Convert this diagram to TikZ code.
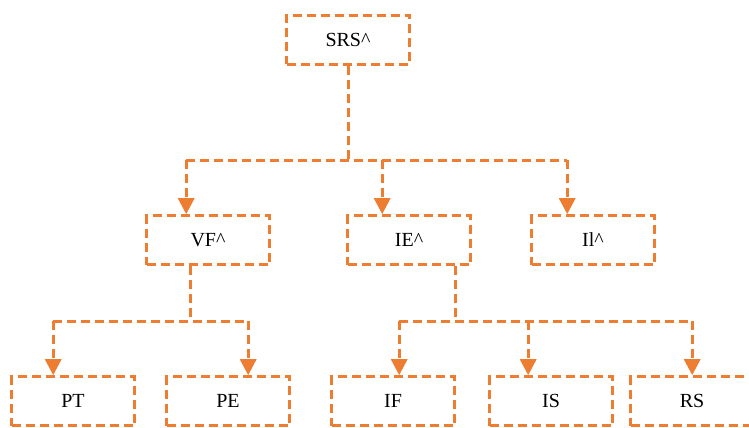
\documentclass[tikz,border=0pt]{standalone}
\usepackage{fontspec}
\setmainfont{Liberation Serif}
\usetikzlibrary{arrows.meta}
\definecolor{boxorange}{RGB}{237,125,49}

\begin{document}
\begin{tikzpicture}[x=1pt,y=-1pt,
	box/.style={draw=boxorange, line width=2.6pt, dash pattern=on 9pt off 5pt,
		minimum width=123pt, minimum height=49pt, inner sep=0pt, font=\fontsize{20}{24}\selectfont},
	link/.style={draw=boxorange, line width=3pt, dash pattern=on 9pt off 5pt},
	arrow/.style={link, -{Triangle[length=16pt,width=16pt]}}]
	\useasboundingbox (0,0) rectangle (749,428);

	\node[box] (srs) at (348,40)  {SRS\textasciicircum};
	\node[box] (vf)  at (208,240) {VF\textasciicircum};
	\node[box] (ie)  at (409,240) {IE\textasciicircum};
	\node[box] (il)  at (593,240) {Il\textasciicircum};
	\node[box] (pt)  at (73,401)  {PT};
	\node[box] (pe)  at (228,401) {PE};
	\node[box] (if)  at (393,401) {IF};
	\node[box] (is)  at (551,401) {IS};
	\node[box] (rs)  at (692,401) {RS};

	% entry points on the box tops
	\coordinate (vf in) at ([xshift=41pt]vf.north west);
	\coordinate (ie in) at ([xshift=36pt]ie.north west);
	\coordinate (il in) at ([xshift=37pt]il.north west);
	\coordinate (pt in) at ([xshift=43pt]pt.north west);
	\coordinate (pe in) at ([xshift=83pt]pe.north west);
	\coordinate (if in) at ([xshift=69pt]if.north west);
	\coordinate (is in) at ([xshift=40pt]is.north west);
	\coordinate (rs in) at ([xshift=63pt]rs.north west);

	% junctions
	\coordinate (j srs) at (348,160);
	\coordinate (vf out) at ([xshift=-18pt]vf.south);
	\coordinate (j vf) at (190,321);
	\coordinate (ie out) at ([xshift=46pt]ie.south);
	\coordinate (j ie) at (455,321);

	\draw[link] (srs.south) -- (j srs);
	\draw[link] (vf in |- j srs) -- (il in |- j srs);
	\foreach \t in {vf,ie,il}
		\draw[arrow] (\t\space in |- j srs) -- (\t\space in);

	\draw[link] (vf out) -- (j vf);
	\draw[link] (pt in |- j vf) -- (pe in |- j vf);
	\foreach \t in {pt,pe}
		\draw[arrow] (\t\space in |- j vf) -- (\t\space in);

	\draw[link] (ie out) -- (j ie);
	\draw[link] (if in |- j ie) -- (rs in |- j ie);
	\foreach \t in {if,is,rs}
		\draw[arrow] (\t\space in |- j ie) -- (\t\space in);
\end{tikzpicture}
\end{document}
